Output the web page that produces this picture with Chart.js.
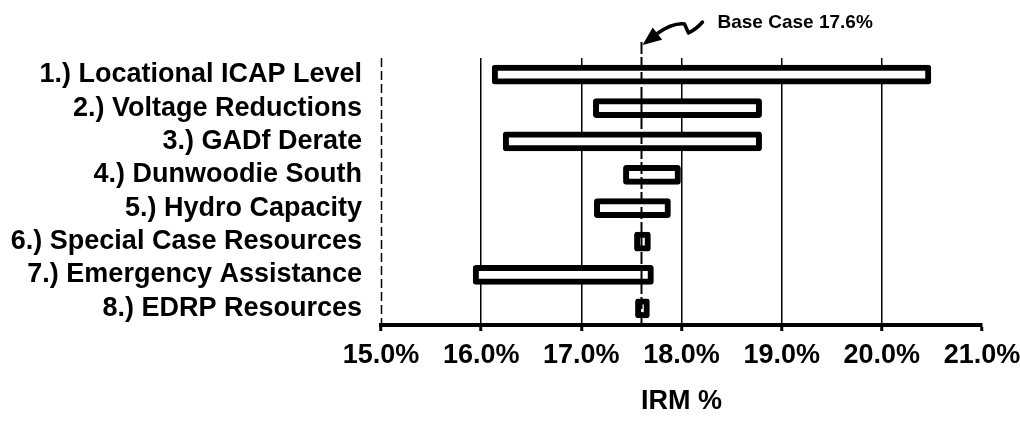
<!DOCTYPE html>
<html>
<head>
<meta charset="utf-8">
<script src="https://cdn.jsdelivr.net/npm/chart.js@4.4.1/dist/chart.umd.min.js"></script>
<style>
  html, body { margin: 0; padding: 0; background: #fff; }
  .chart-size { position: relative; width: 1020px; height: 425px; }
</style>
</head>
<body>
<div class="chart-size"><canvas id="chart"></canvas></div>
<script>
// sensitivity cases, low / high IRM %
const categories = [
  '1.) Locational ICAP Level',
  '2.) Voltage Reductions',
  '3.) GADf Derate',
  '4.) Dunwoodie South',
  '5.) Hydro Capacity',
  '6.) Special Case Resources',
  '7.) Emergency Assistance',
  '8.) EDRP Resources'
];
const lowValues = [16.11, 17.12, 16.22, 17.42, 17.13, 17.53, 15.92, 17.54];
const highValues = [20.49, 18.8, 18.8, 17.99, 17.89, 17.69, 17.72, 17.68];
const baseCase = 17.6;
const baseLabel = 'Base Case 17.6%';
const xMin = 15;
const xMax = 21;
const axisTitle = 'IRM %';

Chart.defaults.font.family = "'Liberation Sans', Arial, sans-serif";
Chart.defaults.color = '#000';

/**
 * base case marker: vertical line, arrow and its note
 */
const baseCasePlugin = {
  id: 'baseCase',
  afterDatasetsDraw(chart) {
    const { ctx, chartArea, scales: { x } } = chart;
    const bx = Math.round(x.getPixelForValue(baseCase)) + 0.5;
    const top = chartArea.top;
    ctx.save();
    ctx.strokeStyle = '#000';
    ctx.fillStyle = '#000';

    // y axis line, broken like the scan
    ctx.lineWidth = 1.5;
    ctx.setLineDash([9, 4]);
    ctx.beginPath();
    ctx.moveTo(chartArea.left + 0.5, top);
    ctx.lineTo(chartArea.left + 0.5, chartArea.bottom);
    ctx.stroke();

    // base case line
    ctx.lineWidth = 2;
    ctx.setLineDash([12, 3]);
    ctx.beginPath();
    ctx.moveTo(bx, top - 16);
    ctx.lineTo(bx, chartArea.bottom);
    ctx.stroke();
    ctx.setLineDash([]);

    // arrow head pointing at the line
    const tipX = bx + 1, tipY = top - 13;
    ctx.beginPath();
    ctx.moveTo(tipX, tipY);
    ctx.lineTo(tipX + 19.6, tipY - 5.2);
    ctx.lineTo(tipX + 10.2, tipY - 17.4);
    ctx.closePath();
    ctx.fill();

    // squiggly shaft
    ctx.lineWidth = 3.5;
    ctx.lineCap = 'round';
    ctx.lineJoin = 'round';
    ctx.beginPath();
    ctx.moveTo(tipX + 14, tipY - 11);
    ctx.bezierCurveTo(tipX + 24, tipY - 18, tipX + 34, tipY - 22, tipX + 42, tipY - 21);
    ctx.lineTo(tipX + 46, tipY - 12);
    ctx.quadraticCurveTo(tipX + 54, tipY - 16, tipX + 60, tipY - 23);
    ctx.stroke();

    ctx.font = "bold 19px 'Liberation Sans', Arial, sans-serif";
    ctx.textAlign = 'left';
    ctx.textBaseline = 'middle';
    ctx.fillText(baseLabel, bx + 76, top - 35);
    ctx.restore();
  }
};

const ctx = document.getElementById('chart').getContext('2d');
new Chart(ctx, {
  type: 'bar',
  data: {
    labels: categories,
    datasets: [{
      data: categories.map((c, i) => [lowValues[i], highValues[i]]),
      backgroundColor: '#fff',
      borderColor: '#000',
      borderWidth: 6,
      borderSkipped: false,
      borderRadius: 3,
      barThickness: 19
    }]
  },
  options: {
    indexAxis: 'y',
    responsive: true,
    maintainAspectRatio: false,
    animation: false,
    layout: { padding: { top: 58, right: 38, bottom: 0, left: 0 } },
    plugins: {
      legend: { display: false },
      tooltip: { enabled: false }
    },
    scales: {
      x: {
        min: xMin,
        max: xMax,
        ticks: {
          stepSize: 1,
          padding: 8,
          color: '#000',
          font: { size: 27, weight: 'bold' },
          callback: (v) => v.toFixed(1) + '%'
        },
        grid: {
          color: (c) => (c.tick && c.tick.value > xMin && c.tick.value < xMax) ? '#000' : 'rgba(0,0,0,0)',
          lineWidth: 1.5,
          tickColor: '#000',
          tickLength: 6,
          tickWidth: 3
        },
        border: { display: true, color: '#000', width: 4 },
        title: {
          display: true,
          text: axisTitle,
          color: '#000',
          font: { size: 27, weight: 'bold' },
          padding: { top: 0, bottom: 7 }
        },
        afterFit: (scale) => {
          scale.height = 100;
          scale.paddingLeft = 0;
          scale.paddingRight = 0;
        }
      },
      y: {
        ticks: {
          autoSkip: false,
          padding: 19,
          color: '#000',
          font: { size: 27, weight: 'bold' }
        },
        grid: { display: false, drawTicks: false },
        border: { display: false },
        afterFit: (scale) => { scale.width = 381; }
      }
    }
  },
  plugins: [baseCasePlugin]
});
</script>
</body>
</html>
